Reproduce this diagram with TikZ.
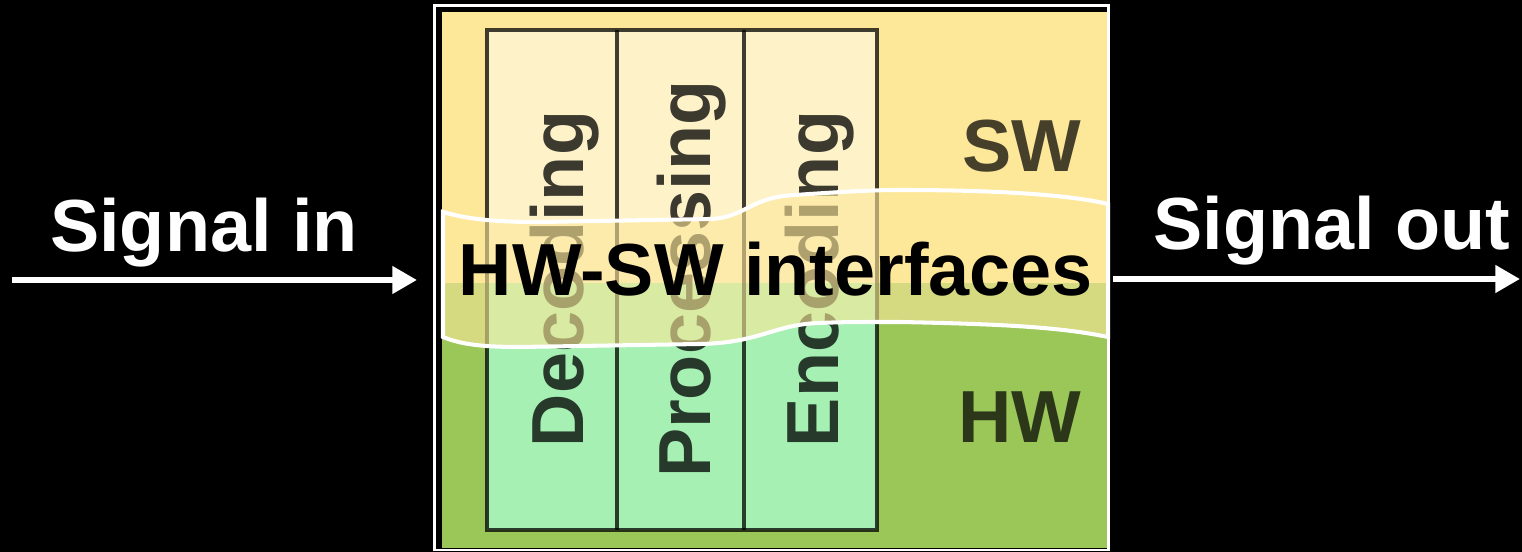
\documentclass[tikz,border=0pt]{standalone}
\usepackage{fontspec}
\setmainfont{Liberation Sans}
\usepackage{tikz}
\usetikzlibrary{arrows.meta,positioning}
\definecolor{swyellow}{RGB}{253,231,153}
\definecolor{hwgreen}{RGB}{155,198,88}
\definecolor{colsw}{RGB}{254,242,200}
\definecolor{colhw}{RGB}{165,240,178}
\tikzset{
  sigarr/.style={-{Triangle[length=7pt, width=7.5pt]}, white, line width=1.7pt},
  sigtxt/.style={text=white, anchor=base, font=\fontsize{21}{25}\selectfont\bfseries},
  coltxt/.style={rotate=90, anchor=base, text=black, text opacity=0.76,
                 font=\fontsize{21}{25}\selectfont\bfseries},
  laytxt/.style={anchor=base east, inner sep=0pt, text=black, text opacity=0.72,
                 font=\fontsize{21}{25}\selectfont\bfseries},
  colline/.style={draw=black, draw opacity=0.75, line width=1.3pt},
  band/.style={draw=white, line width=1.15pt, fill=swyellow, fill opacity=0.6},
}

\begin{document}
\begin{tikzpicture}[scale=1.0]
  \fill[black] (0,0) rectangle (15.22,5.52);
  \useasboundingbox (0,0) rectangle (15.22,5.52);
%---------------- frame and layers ----------------
  \draw[white, line width=0.85pt] (4.345,0.02) rectangle (11.085,5.46);
  \fill[swyellow] (4.42,2.69) rectangle (11.07,5.40);
  \fill[hwgreen] (4.42,0.04) rectangle (11.07,2.69);
  % the three columns
  \fill[colsw] (4.87,2.69) rectangle (8.77,5.22);
  \fill[colhw] (4.87,0.22) rectangle (8.77,2.69);
  \draw[colline] (4.87,0.22) rectangle (8.77,5.22);
  \draw[colline] (6.17,0.22) -- (6.17,5.22);
  \draw[colline] (7.44,0.22) -- (7.44,5.22);
  \node[coltxt] (dec) at (5.83,2.73) {Decoding};
  \node[coltxt] (proc) at (7.10,2.73) {Processing};
  \node[coltxt] (enc) at (8.38,2.73) {Encoding};
  \node[laytxt] (sw) at (10.82,3.80) {SW};
  \node[laytxt] (hw) at (10.82,1.09) {HW};
%---------------- interface band ----------------
  \draw[band] (4.43,3.40) .. controls (4.7,3.32) and (5.0,3.30) .. (5.4,3.30)
    -- (7.1,3.33) .. controls (7.45,3.34) and (7.5,3.55) .. (7.95,3.57)
    .. controls (8.4,3.60) and (8.7,3.62) .. (9.0,3.62)
    .. controls (10.0,3.62) and (10.7,3.57) .. (11.08,3.48)
    -- (11.08,2.15) .. controls (10.6,2.25) and (10.0,2.28) .. (9.0,2.30)
    .. controls (8.6,2.30) and (8.4,2.30) .. (8.2,2.29)
    .. controls (7.75,2.28) and (7.6,2.09) .. (7.0,2.08)
    -- (5.2,2.05) .. controls (4.8,2.05) and (4.6,2.08) .. (4.43,2.15) -- cycle;
  \node[anchor=base, font=\fontsize{21}{25}\selectfont\bfseries] (iface) at (7.76,2.56)
       {HW-SW interfaces};
%---------------- signals ----------------
  \node[sigtxt] (sigin) at (2.04,3.00) {Signal in};
  \node[sigtxt] (sigout) at (13.32,3.02) {Signal out};
  \coordinate (inS) at (0.12,2.72);
  \coordinate (inE) at (4.17,2.72);
  \coordinate (outS) at (11.13,2.73);
  \coordinate (outE) at (15.20,2.73);
  \draw[sigarr] (inS) -- (inE);
  \draw[sigarr] (outS) -- (outE);
\end{tikzpicture}
\end{document}
